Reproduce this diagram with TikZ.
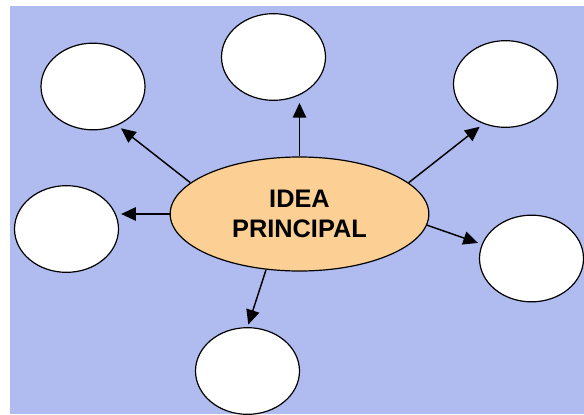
\documentclass[tikz,border=0pt]{standalone}
\usepackage{fontspec}
\newfontfamily\ideafont{Liberation Sans}
\usetikzlibrary{arrows.meta,shapes.geometric}

\definecolor{mapblue}{RGB}{176,188,239}
\definecolor{mappeach}{RGB}{252,208,148}

\tikzset{
  bubble/.style={draw, ellipse, fill=white, line width=0.9pt, inner sep=0pt,
    minimum width=78pt, minimum height=65pt},
  mainidea/.style={draw, ellipse, fill=mappeach, line width=0.9pt, inner sep=0pt,
    minimum width=194pt, minimum height=85.5pt, align=center,
    font=\ideafont\bfseries\fontsize{19}{22.5}\selectfont},
  link/.style={-{Triangle[length=11pt,width=10pt]}, line width=1.1pt}
}

\begin{document}
\begin{tikzpicture}[x=0.75pt,y=-0.75pt]
\useasboundingbox (0,0) rectangle (584,414);
\fill[mapblue] (10,6) rectangle (584,414);

% Central idea

\node[mainidea] (main) at (299.5,214) {IDEA\\PRINCIPAL};

% Empty bubbles round it

\foreach \n/\x/\y in {upleft/93/86.5, up/273.5/57, upright/505.5/84,
                      left/66.5/229, right/531.5/258.5, down/247.5/371}
  {\node[bubble] (\n) at (\x,\y) {};}

% Arrows out of the central idea

\draw[link] (main.north) -- ([yshift=-1.5pt]main.north |- up.south);
\draw[link] (main.west) -- ([xshift=1.5pt]left.east |- main.west);
\draw[link, shorten >=3.5pt] (main.164) -- (upleft.-58);
\draw[link, shorten >=3.5pt] (main.16) -- (upright.-119);
\draw[link, shorten >=3pt] (main.-5) -- (right.164);
\draw[link, shorten >=2pt] (main.-121.6) -- (down.north);

\end{tikzpicture}
\end{document}
